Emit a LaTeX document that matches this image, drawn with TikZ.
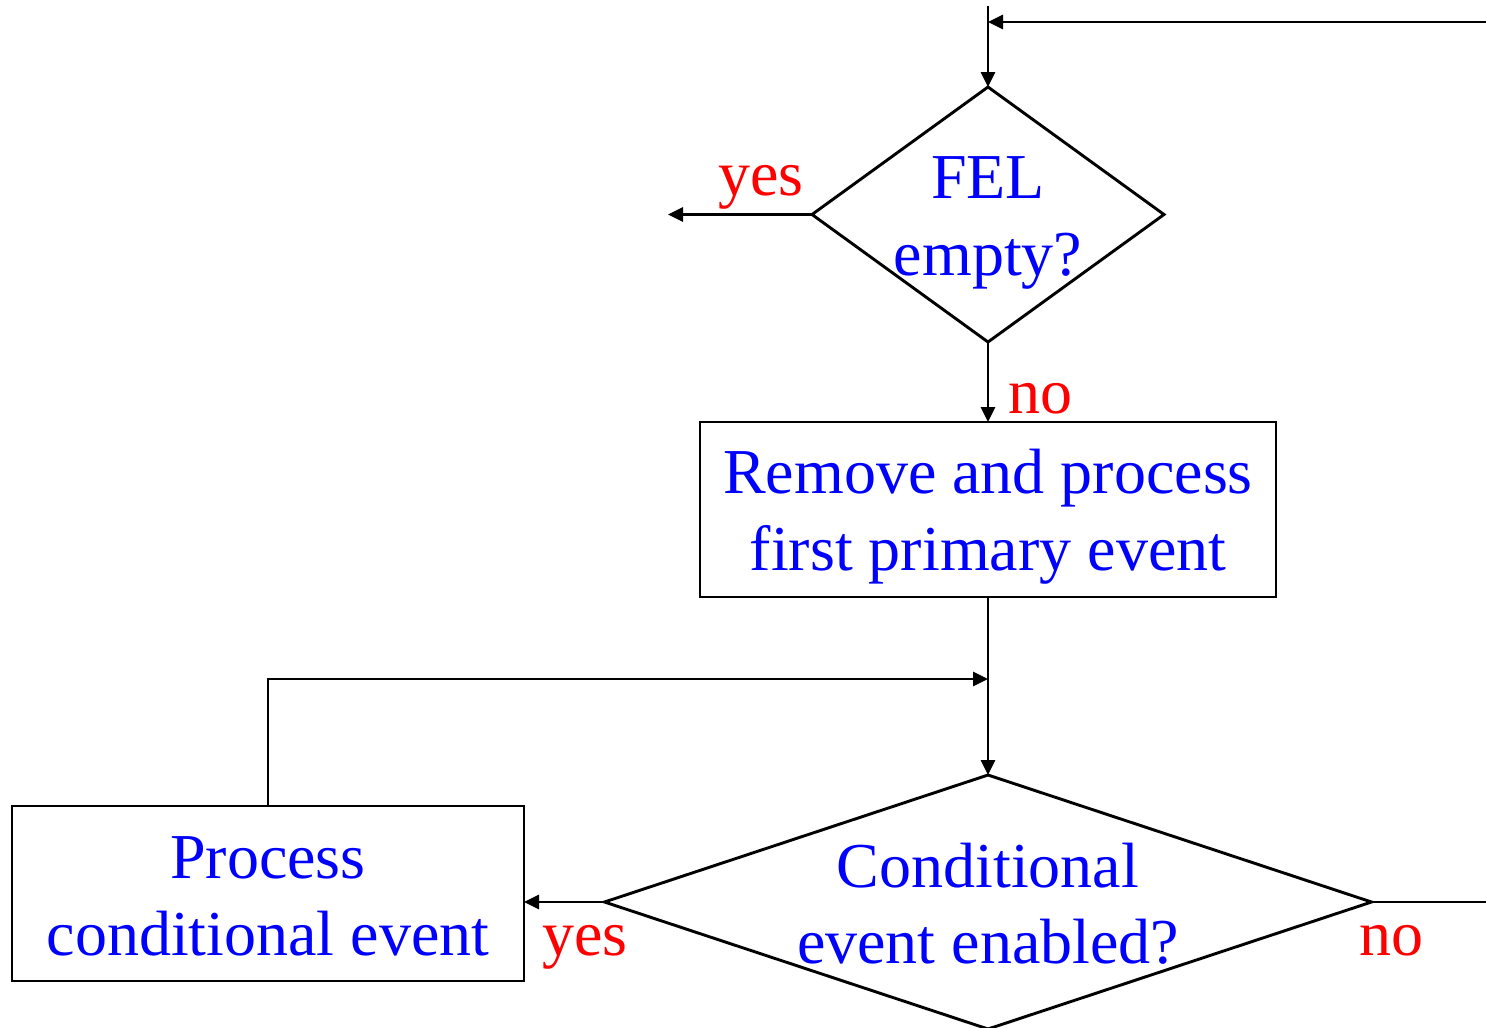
\documentclass[tikz,border=0pt]{standalone}
\usepackage{fontspec}
\setmainfont{Liberation Serif}
\usetikzlibrary{arrows.meta,shapes.geometric}

\definecolor{txtblue}{RGB}{0,0,255}
\definecolor{txtred}{RGB}{255,0,0}

\tikzset{
  line/.style={draw=black, line width=2.9pt},
  arr/.style={line, -{Triangle[length=15pt,width=14pt]}},
  decision/.style={diamond, draw=black, line width=2.9pt, inner sep=0pt, outer sep=0pt},
  procbox/.style={rectangle, draw=black, line width=2.9pt, inner sep=0pt, outer sep=0pt},
  btext/.style={anchor=base, inner sep=0pt, text=txtblue, font=\fontsize{64}{77}\selectfont},
  rtext/.style={anchor=base, inner sep=0pt, text=txtred, font=\fontsize{64}{77}\selectfont},
}

\begin{document}
\begin{tikzpicture}[x=1pt, y=-1pt]
  \useasboundingbox (0,0) rectangle (1486,1028);

  % shapes
  \node[decision, minimum width=352pt, minimum height=255pt] (d1) at (988,214.5) {};
  \node[procbox, minimum width=576pt, minimum height=175pt] (b1) at (988,509.5) {};
  \node[decision, minimum width=767pt, minimum height=254pt] (d2) at (988,902) {};
  \node[procbox, minimum width=512pt, minimum height=175pt] (b2) at (268,893.5) {};

  % texts inside the shapes
  \node[btext] (t1a) at (988,198) {FEL};
  \node[btext] (t1b) at (988,275) {empty?};
  \node[btext] (t2a) at (988,493) {Remove and process};
  \node[btext] (t2b) at (988,570) {first primary event};
  \node[btext] (t3a) at (988,887) {Conditional};
  \node[btext] (t3b) at (988,963) {event enabled?};
  \node[btext] (t4a) at (268,878) {Process};
  \node[btext] (t4b) at (268,955) {conditional event};

  % branch labels
  \node[rtext] (yes1) at (761,195) {yes};
  \node[rtext] (no1) at (1040,413) {no};
  \node[rtext] (yes2) at (585,955) {yes};
  \node[rtext] (no2) at (1391,955) {no};

  % free ends of connectors
  \coordinate (entry) at (988,6);
  \coordinate (loopin) at (1486,22);
  \coordinate (join) at (988,22);
  \coordinate (exit) at (668,214.5);
  \coordinate (merge) at (988,679);
  \coordinate (noexit) at (1486,902);

  % connectors
  \draw[arr] (entry) -- (d1.north);
  \draw[arr] (loopin) -- (join);
  \draw[arr] (d1.west) -- (exit);
  \draw[arr] (d1.south) -- (b1.north);
  \draw[arr] (b1.south) -- (d2.north);
  \draw[arr] (b2.north) |- (merge);
  \draw[arr] (d2.west) -- (d2.west -| b2.east);
  \draw[line] (d2.east) -- (noexit);
\end{tikzpicture}
\end{document}
